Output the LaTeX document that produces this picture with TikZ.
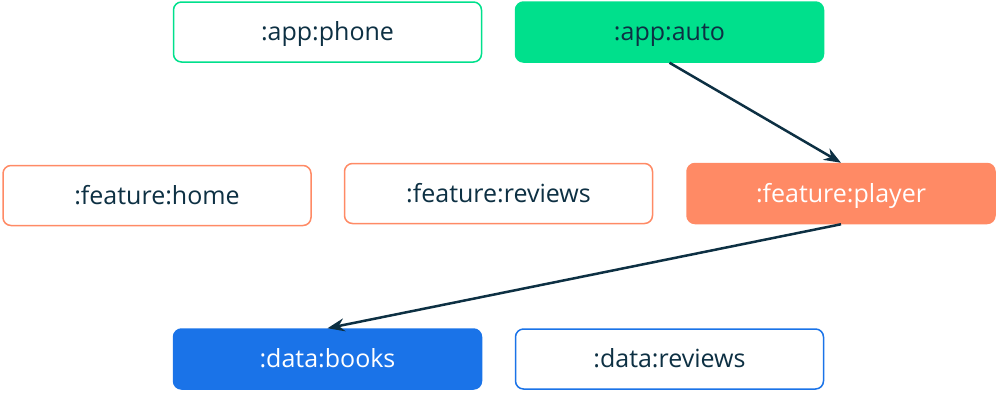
\documentclass[tikz,border=0pt]{standalone}
\usepackage{fontspec}
\setmainfont{Open Sans}
\usetikzlibrary{arrows.meta}
\definecolor{mint}{HTML}{00E08C}
\definecolor{coral}{HTML}{FF8A65}
\definecolor{azure}{HTML}{1A73E8}
\definecolor{ink}{HTML}{0D3043}

\tikzset{
  module/.style={rounded corners=8pt, minimum width=308pt, minimum height=60pt,
    line width=1.5pt, fill=white, text=ink, font=\fontsize{25}{30}\selectfont,
    text height=21pt, text depth=4pt},
  dep/.style={-{Stealth[length=17pt,width=13pt]}, ink, line width=2.5pt},
}

\begin{document}
\begin{tikzpicture}[x=1pt, y=-1pt]
  \useasboundingbox (0,0) rectangle (998,392);
  % apps
  \node[module, draw=mint] (phone) at (327.5,32) {:app:phone};
  \node[module, draw=mint, fill=mint] (auto) at (669.5,32) {:app:auto};
  % features
  \node[module, draw=coral] (home) at (157,195.5) {:feature:home};
  \node[module, draw=coral] (reviews) at (498.5,193.5) {:feature:reviews};
  \node[module, draw=coral, fill=coral, text=white] (player) at (841,193.5) {:feature:player};
  % data
  \node[module, draw=azure, fill=azure, text=white] (books) at (327.5,359) {:data:books};
  \node[module, draw=azure] (datarev) at (669.5,359) {:data:reviews};
  % dependencies
  \draw[dep] (auto.south) -- (player.north);
  \draw[dep] (player.south) -- (books.north);
\end{tikzpicture}
\end{document}
